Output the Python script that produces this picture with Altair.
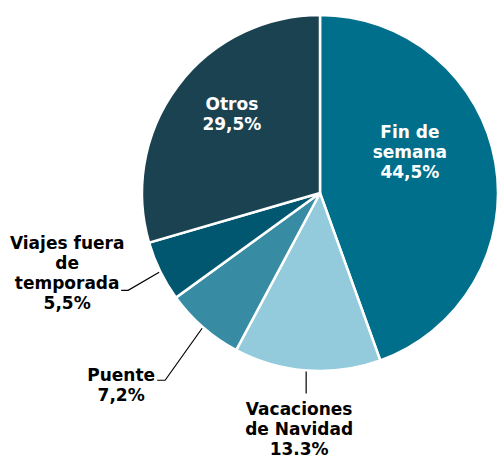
import altair as alt
import pandas as pd
import math

# ---- data ----
categories = ["Fin de semana", "Vacaciones de Navidad", "Puente", "Viajes fuera de temporada", "Otros"]
values = [44.5, 13.3, 7.2, 5.5, 29.5]
pct_text = ["44,5%", "13.3%", "7,2%", "5,5%", "29,5%"]
label_text = ["Fin de\nsemana", "Vacaciones\nde Navidad", "Puente", "Viajes fuera\nde\ntemporada", "Otros"]
colors = ["#006f8b", "#93cadc", "#378ca4", "#00576f", "#1b4251"]
text_colors = ["white", "black", "black", "black", "white"]

# ---- layout ----
W, H = 497, 456
CX, CY, R = 320, 193, 178
# inside labels: (radius factor, angle shift deg) of first text line relative to slice mid-angle
label_pos = {
    "Fin de semana": (0.607, -23.8),
    "Otros": (0.70, 8.1),
}
# outside labels: leader line bends and first-line text centres, relative to slice edge point
outside = {
    "Vacaciones de Navidad": {"elbow": (-1, 23), "end": (-1, 23), "text": (-8, 39)},
    "Puente": {"elbow": (-38, 53), "end": (-46, 53), "text": (-82, 49)},
    "Viajes fuera de temporada": {"elbow": (-32, 19), "end": (-39, 19), "text": (-93, -27)},
}

df = pd.DataFrame({"cat": categories, "value": values, "order": range(len(categories))})

total = sum(values)
cum = 0
txt_rows, line_rows = [], []
for c, v, p, lt, tc in zip(categories, values, pct_text, label_text, text_colors):
    mid = (cum + v / 2) / total * 2 * math.pi
    cum += v
    ex = CX + R * math.sin(mid)
    ey = CY - R * math.cos(mid)
    if c in label_pos:
        rf, shift = label_pos[c]
        a = mid + math.radians(shift)
        tx = CX + R * rf * math.sin(a)
        ty = CY - R * rf * math.cos(a)
    else:
        o = outside[c]
        tx, ty = ex + o["text"][0], ey + o["text"][1]
        pts = [(ex - 1, ey + 1), (ex + o["elbow"][0], ey + o["elbow"][1]), (ex + o["end"][0], ey + o["end"][1])]
        for i, (px, py) in enumerate(pts):
            line_rows.append({"cat": c, "i": i, "x": px, "y": py})
    txt_rows.append({"cat": c, "label": lt + "\n" + p, "x": tx, "y": ty, "tc": tc})

tdf = pd.DataFrame(txt_rows)
ldf = pd.DataFrame(line_rows)

pie = alt.Chart(df).mark_arc(radius=R, stroke="white", strokeWidth=2.5).encode(
    theta=alt.Theta("value:Q", stack=True),
    color=alt.Color("cat:N", scale=alt.Scale(domain=categories, range=colors), legend=None),
    order=alt.Order("order:Q"),
    x=alt.value(CX),
    y=alt.value(CY),
)

lines = alt.Chart(ldf).mark_line(color="black", strokeWidth=1.2).encode(
    x=alt.X("x:Q", scale=None),
    y=alt.Y("y:Q", scale=None),
    detail="cat:N",
    order="i:Q",
)

texts = alt.Chart(tdf).mark_text(
    font="DejaVu Sans", fontWeight="bold", fontSize=17, lineBreak="\n",
    lineHeight=20, align="center", baseline="middle",
).encode(
    x=alt.X("x:Q", scale=None),
    y=alt.Y("y:Q", scale=None),
    text="label:N",
    color=alt.Color("tc:N", scale=None),
)

chart = alt.layer(pie, lines, texts).properties(
    width=W, height=H, autosize=alt.AutoSizeParams(type="none"), padding=0
).configure_view(stroke=None)

chart.save("out.html", embed_options={"renderer": "svg", "actions": False})
